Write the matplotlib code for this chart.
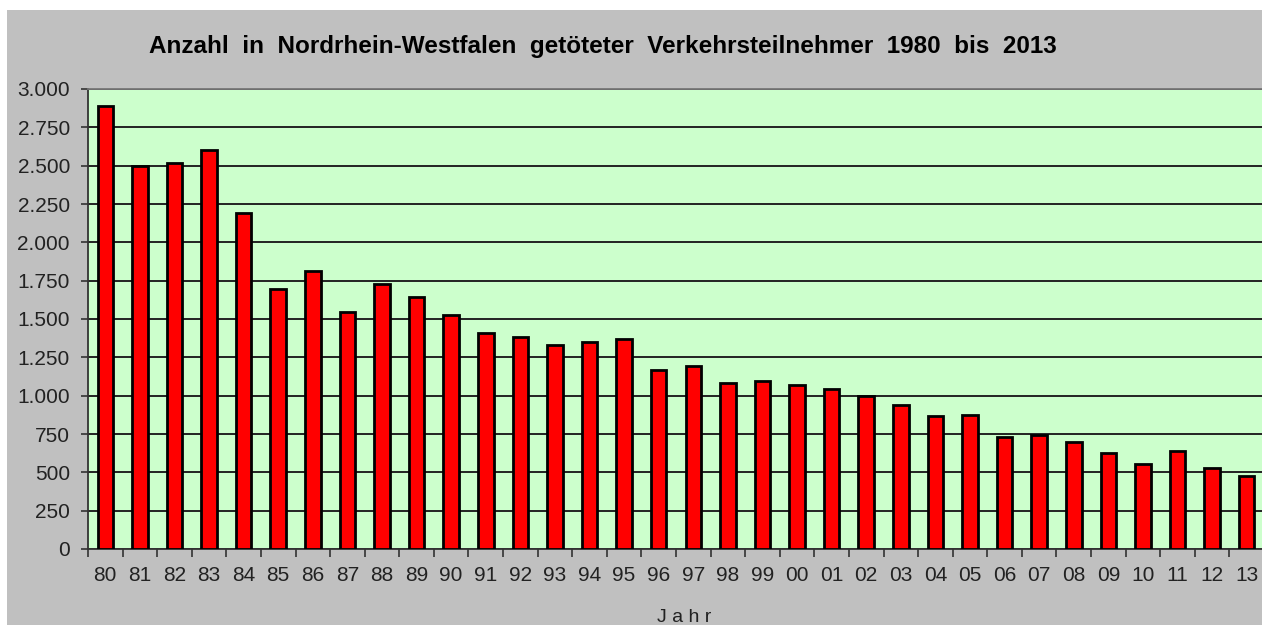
import numpy as np
import matplotlib
matplotlib.use("Agg")
import matplotlib.pyplot as plt
from matplotlib.patches import Rectangle
from matplotlib.ticker import FuncFormatter, FixedLocator

plt.rcParams['font.family'] = ['Liberation Sans', 'DejaVu Sans']

# Data
years = ["80", "81", "82", "83", "84", "85", "86", "87", "88", "89",
         "90", "91", "92", "93", "94", "95", "96", "97", "98", "99",
         "00", "01", "02", "03", "04", "05", "06", "07", "08", "09",
         "10", "11", "12", "13"]
killed = [2890, 2495, 2520, 2605, 2190, 1695, 1810, 1545, 1728, 1644,
          1526, 1409, 1385, 1333, 1350, 1368, 1166, 1192, 1083, 1093,
          1070, 1042, 998, 942, 866, 876, 733, 742, 698, 624,
          556, 639, 530, 478]
yticks = np.arange(0, 3001, 250)

fig = plt.figure(figsize=(12.62, 6.25), dpi=100, facecolor='white')
# gray chart area (small white strip at top and left)
fig.patches.append(Rectangle((7 / 1262, 0), 1, 1 - 10 / 625, transform=fig.transFigure,
                             facecolor='#C0C0C0', edgecolor='none', zorder=-10))

ax = fig.add_axes([88 / 1262, 76 / 625, 1176 / 1262, 460 / 625])
ax.set_facecolor('#CCFFCC')

x = np.arange(len(years))
ax.bar(x, killed, width=0.45, color='#FF0000', edgecolor='black', linewidth=2, zorder=3)

ax.set_xlim(-0.5, len(years) - 0.5)
ax.set_ylim(0, 3000)

# horizontal gridlines
ax.set_yticks(yticks)
ax.yaxis.grid(True, color='#222222', linewidth=1.4, zorder=1)
ax.set_axisbelow(True)
ax.yaxis.set_major_formatter(FuncFormatter(lambda v, p: f"{int(v):,}".replace(",", ".")))
ax.tick_params(axis='y', direction='out', length=5, width=1.2, color='#333333',
               labelsize=15, pad=8, labelcolor='#222222')

# x ticks at category boundaries, labels in between
ax.xaxis.set_major_locator(FixedLocator(np.arange(-0.5, len(years), 1)))
ax.xaxis.set_major_formatter(FuncFormatter(lambda v, p: ""))
ax.xaxis.set_minor_locator(FixedLocator(x))
ax.set_xticklabels(years, minor=True)
ax.tick_params(axis='x', which='major', direction='out', length=6, width=1.2, color='#333333')
ax.tick_params(axis='x', which='minor', length=0, pad=12, labelsize=15, labelcolor='#222222')

for s in ['left', 'bottom']:
    ax.spines[s].set_color('#333333')
    ax.spines[s].set_linewidth(1.3)
ax.spines['top'].set_color('#777777')
ax.spines['top'].set_linewidth(1.3)
ax.spines['right'].set_visible(False)

fig.text(603 / 1262, 1 - 47 / 625, "Anzahl  in  Nordrhein-Westfalen  getöteter  Verkehrsteilnehmer  1980  bis  2013",
         ha='center', va='center', fontsize=17.5, fontweight='bold', color='black')
fig.text(684 / 1262, 1 - 617 / 625, "J a h r", ha='center', va='center', fontsize=14, color='#222222')

fig.savefig("out.png", dpi=100, facecolor=fig.get_facecolor())
